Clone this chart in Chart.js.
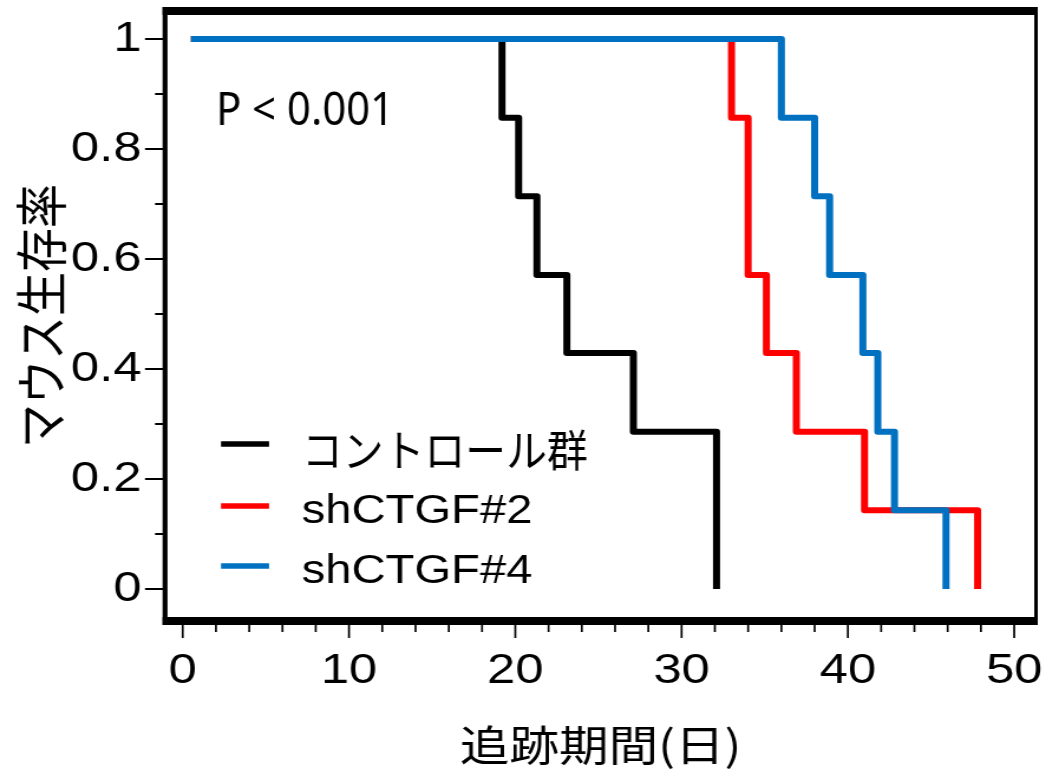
<!DOCTYPE html>
<html>
<head>
<meta charset="utf-8">
<script src="https://cdn.jsdelivr.net/npm/chart.js@4.4.1/dist/chart.umd.min.js"></script>
<style>
  html, body { margin: 0; padding: 0; background: #fff; overflow: hidden; }
  /* the original figure is stretched sideways, so draw narrow and stretch */
  #wrap { width: 897px; height: 770px; transform: scaleX(1.1806); transform-origin: 0 0; }
</style>
</head>
<body>
<div id="wrap"><canvas id="km" width="897" height="770"></canvas></div>
<script>
var SX = 1059 / 897;

var controlDays = [0.5, 19.2, 20.2, 21.3, 23.1, 27.1, 32.1];
var controlSurv = [1, 0.857, 0.714, 0.571, 0.429, 0.286, 0];
var sh2Days = [0.5, 33, 34, 35.1, 36.9, 41, 47.8];
var sh2Surv = [1, 0.857, 0.571, 0.429, 0.286, 0.143, 0];
var sh4Days = [0.5, 36, 38, 38.9, 40.9, 41.8, 42.8, 45.9];
var sh4Surv = [1, 0.857, 0.714, 0.571, 0.429, 0.286, 0.143, 0];

var seriesNames = ["コントロール群", "shCTGF#2", "shCTGF#4"];
var seriesColors = ["#000000", "#ff0000", "#0070c0"];

var xTicks = [0, 10, 20, 30, 40, 50];
var xMinorTicks = [2, 4, 6, 8, 12, 14, 16, 18, 22, 24, 26, 28, 32, 34, 36, 38, 42, 44, 46, 48];
var yTicks = [0, 0.2, 0.4, 0.6, 0.8, 1];
var yMinorTicks = [0.1, 0.3, 0.5, 0.7, 0.9];

function toPoints(days, surv) {
  var pts = [];
  for (var i = 0; i < days.length; i++) {
    pts.push({x: days[i], y: surv[i]});
  }
  return pts;
}

function seg(ctx, x1, y1, x2, y2) {
  ctx.beginPath();
  ctx.moveTo(x1, y1);
  ctx.lineTo(x2, y2);
  ctx.stroke();
}

// box round the plot + tick marks outside it
var framePlugin = {
  id: 'frame',
  afterDatasetsDraw: function(chart) {
    var ctx = chart.ctx, a = chart.chartArea;
    var xs = chart.scales.x, ys = chart.scales.y;
    ctx.save();
    ctx.strokeStyle = '#000';
    ctx.lineCap = 'butt';

    ctx.lineWidth = 1.7;
    xTicks.forEach(function(v) {
      var px = xs.getPixelForValue(v);
      seg(ctx, px, a.bottom, px, 638);
    });
    xMinorTicks.forEach(function(v) {
      var px = xs.getPixelForValue(v);
      seg(ctx, px, a.bottom, px, 632);
    });

    ctx.lineWidth = 2;
    yTicks.forEach(function(v) {
      var py = ys.getPixelForValue(v);
      seg(ctx, 122.8, py, a.left, py);
    });
    yMinorTicks.forEach(function(v) {
      var py = ys.getPixelForValue(v);
      seg(ctx, 131.3, py, a.left, py);
    });

    ctx.lineWidth = 8;
    seg(ctx, a.left - 2.1, a.top, a.right + 1.5, a.top);
    seg(ctx, a.left - 2.1, a.bottom, a.right + 1.5, a.bottom);
    ctx.lineWidth = 4.2;
    seg(ctx, a.left, a.top - 4, a.left, a.bottom + 4);
    ctx.lineWidth = 3;
    seg(ctx, a.right, a.top - 4, a.right, a.bottom + 4);
    ctx.restore();
  }
};

// legend inside the plot and the p value
var legendPlugin = {
  id: 'inlegend',
  afterDraw: function(chart) {
    var ctx = chart.ctx;
    var lineY = [444, 506, 566];
    ctx.save();
    ctx.lineWidth = 5.5;
    ctx.lineCap = 'butt';
    for (var i = 0; i < seriesNames.length; i++) {
      ctx.strokeStyle = seriesColors[i];
      seg(ctx, 187.2, lineY[i], 227.9, lineY[i]);
    }
    ctx.fillStyle = '#000';
    ctx.textAlign = 'left';
    ctx.textBaseline = 'middle';
    ctx.font = '44px "Noto Sans CJK JP"';
    ctx.fillText(seriesNames[0], 255.8, 450, 242);
    ctx.textBaseline = 'alphabetic';
    ctx.font = '40px "Liberation Sans"';
    ctx.fillText(seriesNames[1], 255.4, 523);
    ctx.fillText(seriesNames[2], 255.4, 583);

    // the p value is not stretched in the original
    ctx.translate(216 / SX, 125);
    ctx.scale(1 / SX, 1);
    ctx.font = '45px "Noto Sans"';
    ctx.fillText('P < 0.001', 0, 0, 178);
    ctx.restore();
  }
};

new Chart(document.getElementById('km'), {
  type: 'line',
  data: {
    datasets: [
      {label: seriesNames[0], data: toPoints(controlDays, controlSurv), borderColor: seriesColors[0], stepped: 'before', order: 3},
      {label: seriesNames[1], data: toPoints(sh2Days, sh2Surv), borderColor: seriesColors[1], stepped: 'before', order: 2},
      {label: seriesNames[2], data: toPoints(sh4Days, sh4Surv), borderColor: seriesColors[2], stepped: 'before', order: 1}
    ]
  },
  options: {
    responsive: false,
    animation: false,
    layout: {autoPadding: false, padding: {top: 11, right: 19.5, left: 0, bottom: 0}},
    elements: {
      line: {borderWidth: 6, borderJoinStyle: 'round', borderCapStyle: 'butt', tension: 0, fill: false},
      point: {radius: 0, hoverRadius: 0}
    },
    plugins: {
      legend: {display: false},
      tooltip: {enabled: false}
    },
    scales: {
      x: {
        type: 'linear',
        min: -1.061,
        max: 51.31,
        grid: {display: false, drawTicks: false},
        border: {display: false},
        afterBuildTicks: function(s) { s.ticks = xTicks.map(function(v) { return {value: v}; }); },
        afterFit: function(s) { s.height = 149; s.paddingLeft = 0; s.paddingRight = 0; },
        ticks: {
          font: {family: 'Liberation Sans', size: 43},
          color: '#000',
          padding: 24,
          maxRotation: 0,
          autoSkip: false,
          callback: function(v) { return String(v); }
        },
        title: {
          display: true,
          text: '追跡期間(日)',
          font: {family: 'Noto Sans CJK JP', size: 42},
          color: '#000',
          padding: 0
        }
      },
      y: {
        type: 'linear',
        min: -0.0582,
        max: 1.0509,
        grid: {display: false, drawTicks: false},
        border: {display: false},
        afterBuildTicks: function(s) { s.ticks = yTicks.map(function(v) { return {value: v}; }); },
        afterFit: function(s) { s.width = 139.8; s.paddingTop = 0; s.paddingBottom = 0; },
        ticks: {
          font: {family: 'Liberation Sans', size: 43},
          color: '#000',
          padding: 20,
          autoSkip: false,
          callback: function(v) { return String(v); }
        },
        title: {
          display: true,
          text: 'マウス生存率',
          font: {family: 'Noto Sans CJK JP', size: 44},
          color: '#000',
          padding: {top: 9, bottom: 0}
        }
      }
    }
  },
  plugins: [framePlugin, legendPlugin]
});
</script>
</body>
</html>
